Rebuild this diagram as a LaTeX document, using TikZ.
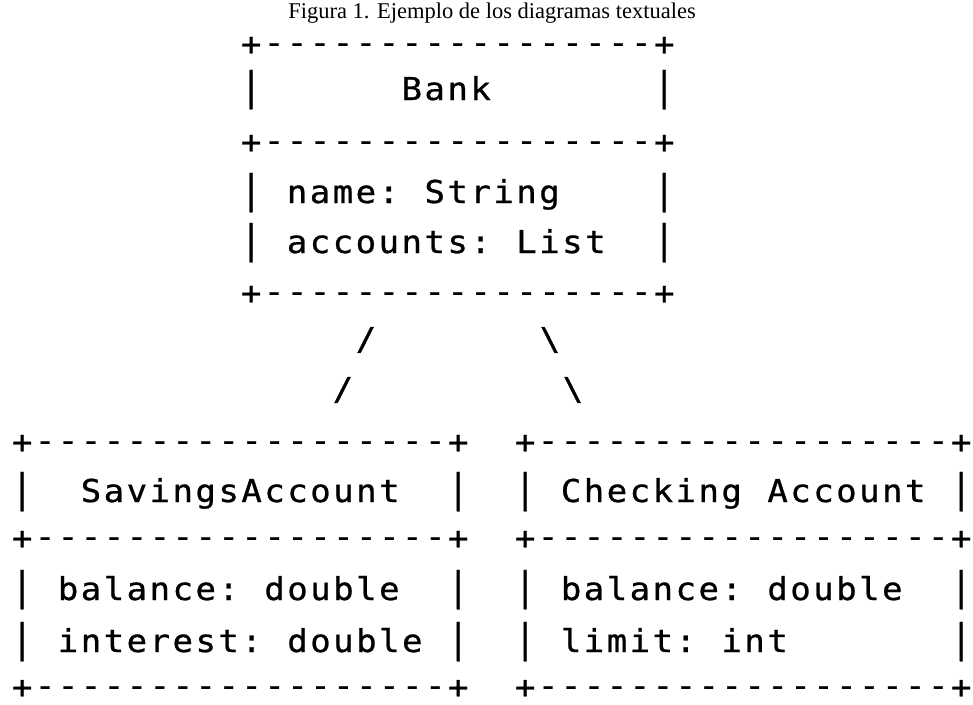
\documentclass[tikz,border=0pt]{standalone}
\usepackage{fontspec}
\setmainfont{Liberation Serif}
\newfontfamily\asciifont[FakeStretch=1.08, FakeBold=0.8]{DejaVu Sans Mono}

% Typeset a line of ASCII art on a fixed character grid;
% a '.' in the argument stands for a blank cell, dashes sit on the
% axis of the plus signs and bars run the full line height.
\newlength\cellwd
\setlength\cellwd{22.95pt}
\ExplSyntaxOn
\NewDocumentCommand \asciirow { m }
  {
    \str_map_inline:nn { #1 }
      {
        \makebox[\cellwd]
          {
            \str_case:nnF { ##1 }
              {
                { . } { }
                { - } { \raisebox{1.8pt}{-} }
                { | } { \scalebox{1}[1.25]{|} }
              }
              { ##1 }
          }
      }
  }
\ExplSyntaxOff

\begin{document}
\begin{tikzpicture}[x=1pt, y=-1pt,
    ascii/.style={inner sep=0pt, anchor=base west,
      font=\asciifont\fontsize{31.5}{31.5}\selectfont},
    glyph/.style={inner sep=0pt, anchor=center,
      font=\asciifont\fontsize{31.5}{31.5}\selectfont},
    caption/.style={inner sep=0pt, anchor=base,
      font=\fontsize{22.5}{22.5}\selectfont}]
  \useasboundingbox (0,0) rectangle (973,704);

  \node[caption] (title) at (492,18) {Figura 1. Ejemplo de los diagramas textuales};

  % Bank class box
  \node[ascii] (bank-top)  at (239.5,55)  {\asciirow{+-----------------+}};
  \node[ascii] (bank-name) at (239.5,100) {\asciirow{|......Bank.......|}};
  \node[ascii] (bank-mid)  at (239.5,153) {\asciirow{+-----------------+}};
  \node[ascii] (bank-f1)   at (239.5,203) {\asciirow{|.name:.String....|}};
  \node[ascii] (bank-f2)   at (239.5,253) {\asciirow{|.accounts:.List..|}};
  \node[ascii] (bank-bot)  at (239.5,304) {\asciirow{+-----------------+}};

  % Inheritance links drawn with slashes
  \node[glyph] (left-a)  at (366,340) {/};
  \node[glyph] (left-b)  at (343,390) {/};
  \node[glyph] (right-a) at (550,340) {\textbackslash};
  \node[glyph] (right-b) at (573,390) {\textbackslash};

  % SavingsAccount box
  \node[ascii] (sav-top)  at (10.5,453) {\asciirow{+------------------+}};
  \node[ascii] (sav-name) at (10.5,502) {\asciirow{|..SavingsAccount..|}};
  \node[ascii] (sav-mid)  at (10.5,549) {\asciirow{+------------------+}};
  \node[ascii] (sav-f1)   at (10.5,600) {\asciirow{|.balance:.double..|}};
  \node[ascii] (sav-f2)   at (10.5,652) {\asciirow{|.interest:.double.|}};
  \node[ascii] (sav-bot)  at (10.5,698) {\asciirow{+------------------+}};

  % Checking Account box
  \node[ascii] (chk-top)  at (513.5,453) {\asciirow{+------------------+}};
  \node[ascii] (chk-name) at (513.5,502) {\asciirow{|.Checking.Account.|}};
  \node[ascii] (chk-mid)  at (513.5,549) {\asciirow{+------------------+}};
  \node[ascii] (chk-f1)   at (513.5,600) {\asciirow{|.balance:.double..|}};
  \node[ascii] (chk-f2)   at (513.5,652) {\asciirow{|.limit:.int.......|}};
  \node[ascii] (chk-bot)  at (513.5,698) {\asciirow{+------------------+}};
\end{tikzpicture}
\end{document}
